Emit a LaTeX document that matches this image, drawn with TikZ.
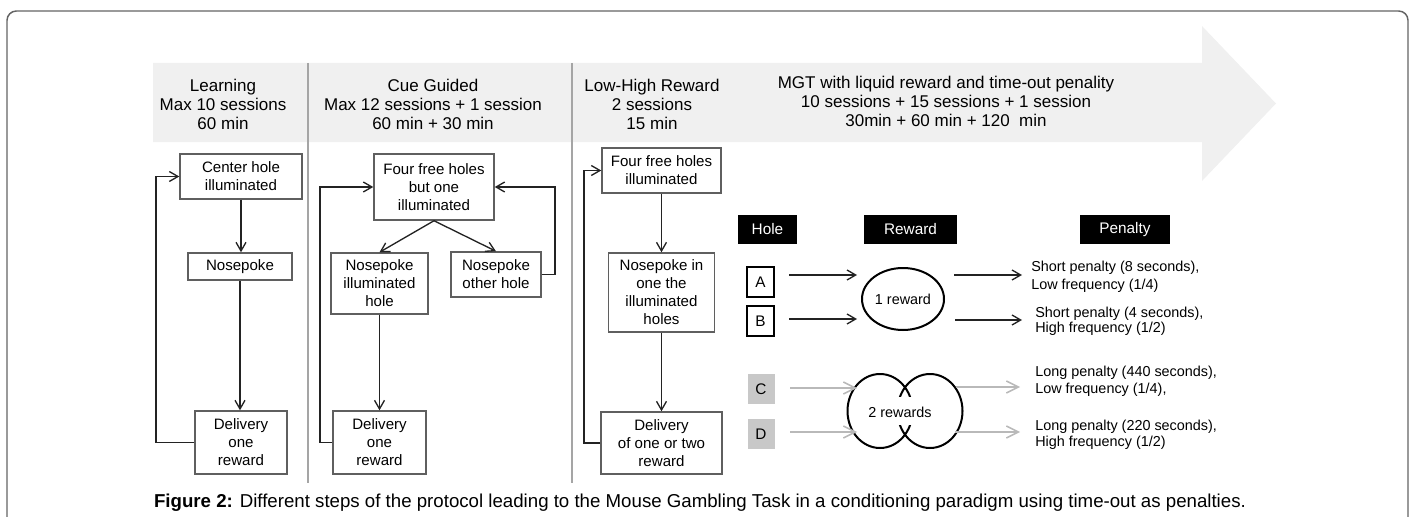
\documentclass[tikz,border=0pt]{standalone}
\usepackage{fontspec}
\setmainfont{Liberation Sans}
\usetikzlibrary{arrows.meta,shapes.geometric}
\definecolor{bandc}{RGB}{240,240,240}
\definecolor{boxline}{RGB}{95,95,95}
\definecolor{conn}{RGB}{35,35,35}
\definecolor{sepc}{RGB}{165,165,165}
\definecolor{holegray}{RGB}{200,200,200}
\definecolor{lightarr}{RGB}{185,185,185}
\definecolor{framec}{RGB}{100,100,100}
\newcommand\hdrfont{\fontsize{12.75}{14.25}\selectfont}
\newcommand\boxfont{\fontsize{11.3}{13.5}\selectfont}
\newcommand\penfont{\fontsize{10.8}{12.6}\selectfont}
\begin{document}
\begin{tikzpicture}[x=0.75pt,y=-0.75pt,
  wh/.style 2 args={minimum width=#1*0.75pt, minimum height=#2*0.75pt},
  box/.style={draw=boxline, line width=1.1pt, fill=white, align=center, inner sep=0pt, font=\boxfont},
  hdr/.style={align=center, inner sep=0pt, font=\hdrfont},
  conn/.style={draw=conn, line width=1pt, -{Straight Barb[length=6.5pt,width=7.5pt]}},
  label/.style={fill=black, text=white, inner sep=0pt, font=\fontsize{11.5}{13}\selectfont},
  hole/.style={inner sep=0pt, wh={27}{30}, font=\fontsize{11.5}{13}\selectfont},
  bigarr/.style={line width=1.1pt, -{Straight Barb[length=9pt,width=9pt]}},
  pen/.style={anchor=west, align=left, inner sep=0pt, font=\penfont},
  ]
\useasboundingbox (0,0) rectangle (1414,517);
% frame
\draw[framec, line width=1.1pt, rounded corners=7pt] (7,520) -- (7,11) -- (1408,11) -- (1408,520);
% band with arrow head
\fill[bandc] (153,63) -- (1202,63) -- (1202,26) -- (1276,103.5) -- (1202,181) -- (1202,142) -- (153,142) -- cycle;
% separators
\draw[sepc, line width=0.8pt] (308,63) -- (308,483);
\draw[sepc, line width=0.8pt] (572,63) -- (572,483);
% headers
\node[hdr] (hL) at (223,104) {Learning\\Max 10 sessions\\60 min};
\node[hdr] (hC) at (433,104) {Cue Guided\\Max 12 sessions + 1 session\\60 min + 30 min};
\node[hdr] (hH) at (652,104) {Low-High Reward\\2 sessions\\15 min};
\node[hdr] (hM) at (946,101) {MGT with liquid reward and time-out penality\\10 sessions + 15 sessions + 1 session\\30min + 60 min + 120\ \ min};
% Learning column
\node[box, wh={122}{45}] (L1) at (241,176.5) {Center hole\\illuminated};
\node[box, wh={104}{27}] (L2) at (240,266.5) {Nosepoke};
\node[box, wh={92}{63}] (L3) at (241,442.5) {Delivery\\one\\reward};
\coordinate (lL) at (156,0);
\draw[conn] (L1.south) -- (L1.south |- L2.north);
\draw[conn] (L2.south) -- (L2.south |- L3.north);
\draw[conn] (L3.west) -- (L3.west -| lL) -- (L1.west -| lL) -- (L1.west);
% Cue guided column
\node[box, wh={120}{66}] (C1) at (434,187) {Four free holes\\but one\\illuminated};
\node[box, wh={97}{61}] (C2) at (379.5,283.5) {Nosepoke\\illuminated\\hole};
\node[box, wh={90}{45}] (C3) at (496,274.5) {Nosepoke\\other hole};
\node[box, wh={93}{63}] (C4) at (379.5,442.5) {Delivery\\one\\reward};
\coordinate (lC) at (320,0);
\coordinate (rC) at (555,0);
\draw[conn] (C1.south) -- (C2.north);
\draw[conn] (C1.south) -- (C3.north);
\draw[conn] (C2.south) -- (C2.south |- C4.north);
\draw[conn] (C4.west) -- (C4.west -| lC) -- (C1.west -| lC) -- (C1.west);
\draw[conn] (C3.east) -- (C3.east -| rC) -- (C1.east -| rC) -- (C1.east);
% Low-High column
\node[box, wh={119}{45}] (H1) at (661.5,170.5) {Four free holes\\illuminated};
\node[box, wh={106}{79}] (H2) at (661.5,292.5) {Nosepoke in\\one the\\illuminated\\holes};
\node[box, wh={121}{62}] (H3) at (661.5,443) {Delivery\\of one or two\\reward};
\coordinate (lH) at (584,0);
\draw[conn] (H1.south) -- (H2.north);
\draw[conn] (H2.south) -- (H3.north);
\draw[conn] (H3.west) -- (H3.west -| lH) -- (H1.west -| lH) -- (H1.west);
% MGT panel labels
\node[label, wh={59}{29}] (tHole) at (767.5,229.5) {Hole};
\node[label, wh={93}{29}] (tRew) at (910.5,229.5) {Reward};
\node[label, wh={90}{29}] (tPen) at (1125,229.5) {Penalty};
% holes
\node[hole, draw=black, line width=1.1pt] (A) at (760.5,282) {A};
\node[hole, draw=black, line width=1.1pt] (B) at (760.5,321) {B};
\node[hole, fill=holegray] (C) at (761,389) {C};
\node[hole, fill=holegray] (D) at (761,434) {D};
% rewards
\node[ellipse, draw=black, line width=1.5pt, inner sep=0pt, wh={82}{62}, font=\penfont] (R1) at (903,299) {1 reward};
\node[ellipse, draw=black, line width=1.5pt, inner sep=0pt, wh={65}{74}] (R2a) at (880,411) {};
\node[ellipse, draw=black, line width=1.5pt, inner sep=0pt, wh={65}{74}] (R2b) at (930,411) {};
\fill[white] (893,397) rectangle (917,425);
\node[inner sep=0pt, font=\penfont] (R2) at (900,412) {2 rewards};
% arrows
\coordinate (a1) at (789,275); \coordinate (a2) at (857,275);
\coordinate (b1) at (789,319); \coordinate (b2) at (857,319);
\coordinate (c1) at (790,388); \coordinate (c2) at (857,388);
\coordinate (d1) at (790,432); \coordinate (d2) at (857,432);
\coordinate (o1) at (954,275); \coordinate (o2) at (1022,275);
\coordinate (p1) at (955,320); \coordinate (p2) at (1022,320);
\coordinate (q1) at (956,387); \coordinate (q2) at (1020,387);
\coordinate (s1) at (955,432); \coordinate (s2) at (1020,432);
\draw[bigarr, conn] (a1) -- (a2);
\draw[bigarr, conn] (b1) -- (b2);
\draw[bigarr, conn] (o1) -- (o2);
\draw[bigarr, conn] (p1) -- (p2);
\draw[bigarr, lightarr] (c1) -- (c2);
\draw[bigarr, lightarr] (d1) -- (d2);
\draw[bigarr, lightarr] (q1) -- (q2);
\draw[bigarr, lightarr] (s1) -- (s2);
% penalty texts
\node[pen, font=\fontsize{10.8}{13.5}\selectfont] (P1) at (1031,277) {Short penalty (8 seconds),\\Low frequency (1/4)};
\node[pen, font=\fontsize{10.8}{11.3}\selectfont] (P2) at (1035,321.5) {Short penalty (4 seconds),\\High frequency (1/2)};
\node[pen, font=\fontsize{10.8}{12.8}\selectfont] (P3) at (1035,381.5) {Long penalty (440 seconds),\\Low frequency (1/4),};
\node[pen, font=\fontsize{10.8}{12.2}\selectfont] (P4) at (1035,435) {Long penalty (220 seconds),\\High frequency (1/2)};
% caption
\node[inner sep=0pt, font=\fontsize{14}{16}\selectfont] (cap) at (700,503) {\textbf{Figure 2:} Different steps of the protocol leading to the Mouse Gambling Task in a conditioning paradigm using time-out as penalties.};
\end{tikzpicture}
\end{document}
